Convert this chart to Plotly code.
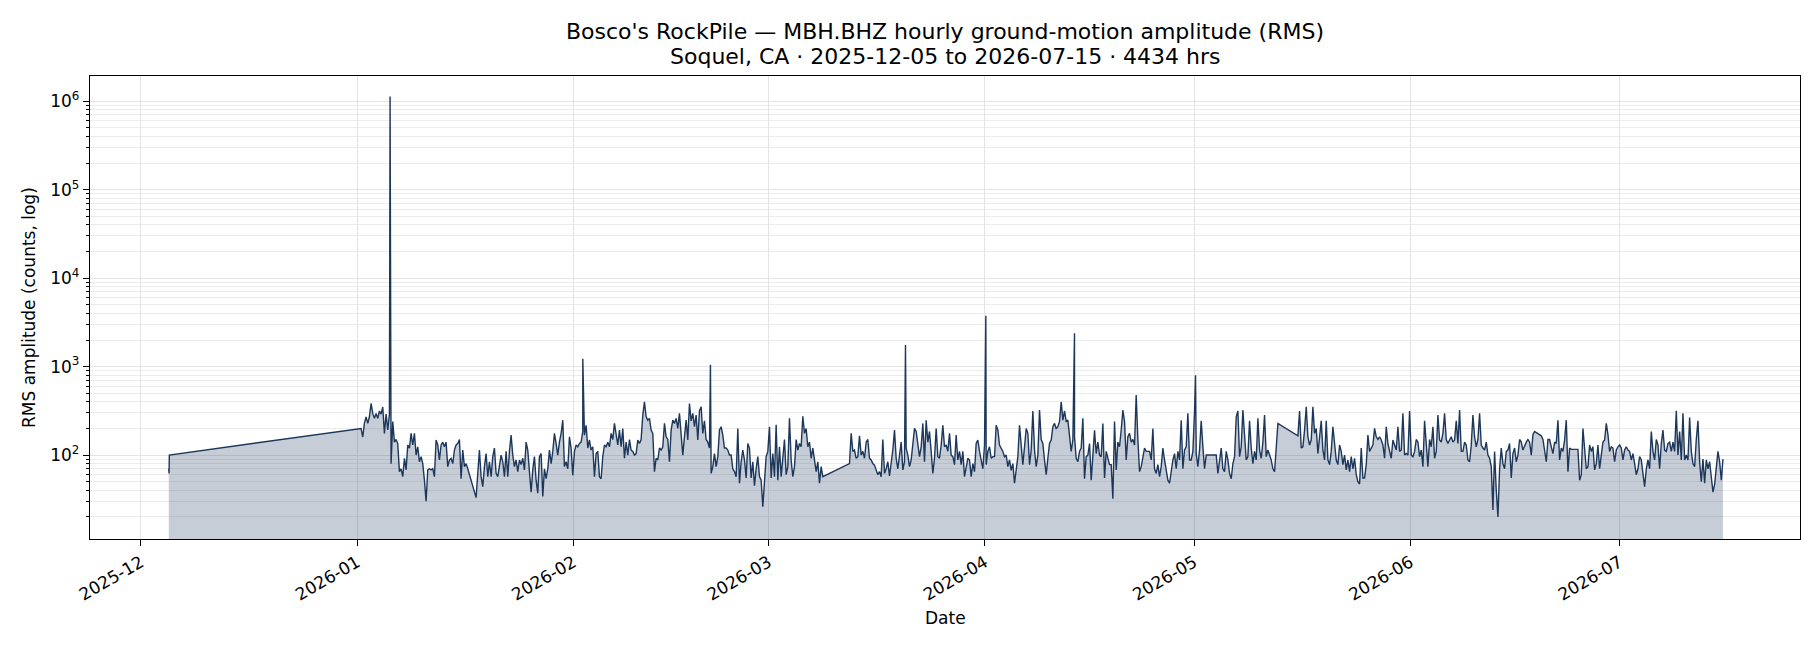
import numpy as np
import pandas as pd
import plotly.graph_objects as go

# ---------------- data ----------------
# short fragment recorded on 2025-12-05
dec_times = ["2025-12-05 00:00", "2025-12-05 01:00", "2025-12-05 02:00"]
dec_rms = [70, 62, 100]

# main record, values read every 5.735 h starting 2026-01-01 13:38 (None = no data)
main_start = "2026-01-01 13:38"
sample_hours = 5.735

rms_jan_a = [200, 160, 230, 270, 228, 271, 383, 296, 260, 296,
             260, 315, 290, 350, 176, 290, 192, 290, 80, 240,
             140, 150, 135, 65, 70, 57, 92, 68, 130, 120,
             176, 130, 176, 100, 124, 84, 96, 80, 52, 30,
             68, 70, 68, 70, 57, 148, 130, 88, 130, 140,
             124, 140, 74, 88, 92, 80, 114, 130, 135, 150,
             54, 114, 74, 80, 70, 60, 52, 45]
rms_jan_b = [37, 33, 62, 114, 57, 44, 74, 104, 57, 84,
             57, 96, 120, 62, 57, 74, 100, 84, 57, 110,
             57, 110, 168, 100, 74, 88, 65, 88, 78, 92,
             68, 140, 114, 65, 38, 68, 96, 52, 37, 96,
             104, 34, 70, 54, 70, 114, 80, 110, 176, 135,
             100, 140, 176, 248, 74, 84, 70, 161, 120, 59,
             110, 130, 124, 135, 140, 185, 168, 217, 120, 148,
             114, 124, 57, 104, 110, 57, 54, 96, 130, 124,
             140]
rms_feb = [124, 176, 150, 228, 176, 130, 192, 124, 200, 92,
           140, 100, 150, 114, 110, 100, 104, 148, 135, 150,
           283, 400, 271, 248, 260, 192, 176, 65, 92, 88,
           120, 114, 124, 228, 161, 150, 84, 192, 248, 228,
           260, 200, 296, 148, 100, 161, 248, 148, 383, 244,
           296, 209, 283, 148, 315, 352, 176, 244, 150, 140,
           120, 62, 74, 104, 74, 96, 192, 209, 168, 120,
           120, 114, 100, 100, 70, 65, 57, 200, 48, 84,
           114]
rms_mar_a = [88, 55, 135, 120, 55, 84, 45, 70, 96, 57,
             52, 26, 48, 96, 110, 209, 55, 104, 57, 220,
             52, 124, 57, 96, 150, 60, 74, 260, 88, 57,
             74, 150, 114, 135, 124, 275, 176, 200, 124, 140,
             92, 120, 84, 65, 84, 48, 74, 57, None, None,
             None, None, None, None, None, None, None, None, None, None,
             None, None, None, 80, 176, 110, 114, 92, 96, 165,
             100, 110, 92, 140, 150, 92, 88, 80, 77, 68,
             60]
rms_mar_b = [65, 57, 150, 62, 70, 84, 58, 78, 114, 192,
             92, 70, 104, 140, 68, 84, 120, 100, 74, 88,
             124, 200, 185, 140, 96, 124, 228, 84, 248, 140,
             185, 110, 62, 92, 200, 96, 92, 130, 217, 124,
             130, 110, 176, 100, 96, 78, 168, 88, 110, 78,
             110, 57, 70, 92, 88, 57, 80, 65, 135, 148,
             110, 84, 70, 130, 78, 110, 124, 92, 96, 96,
             217, 192, 130, 120, 110, 96, 100, 74, 88, 67,
             80]
rms_apr = [48, 70, 96, 217, 124, 78, 124, 200, 176, 78,
           114, 315, 114, 74, 100, 322, 150, 135, 88, 60,
           92, 135, 148, 209, 228, 200, 209, 240, 400, 248,
           315, 240, 248, 161, 110, 148, 160, 92, 84, 110,
           120, 260, 54, 96, 100, 135, 52, 110, 190, 104,
           140, 100, 96, 228, 55, 110, 88, 78, 78, 32,
           240, 68, 140, 124, 192, 322, 240, 88, 161, 176,
           140, 150, 130, 478, 150, 65, 74, 92, 120, 110,
           110]
rms_may_a = [110, 88, 200, 70, 62, 78, 57, 74, 120, 88,
             68, 52, 48, 68, 88, 104, 70, 110, 88, 248,
             70, 114, 124, 296, 88, 88, 110, 315, 104, 74,
             114, 244, 124, 70, 100, 100, 100, 100, 100, 100,
             100, 62, 84, 120, 70, 65, 110, 88, 62, 54,
             80, 96, 271, 315, 96, 124, 322, 150, 88, 96,
             244, 120, 80, 110, 88, 260, 114, 92, 140, 283,
             96, 114, 100, 88, 70, 65, 120, 228, None, None,
             None]
rms_may_b = [None, None, None, None, None, None, None, None, 165, 315,
             120, 124, 192, 352, 161, 130, 148, 352, 176, 200,
             104, 148, 244, 114, 88, 244, 88, 78, 110, 209,
             124, 88, 78, 130, 110, 78, 100, 68, 88, 65,
             96, 70, 92, 60, 50, 47, 120, 55, 55, 78,
             168, 110, 120, 130, 200, 161, 150, 161, 148, 130,
             92, 209, 135, 114, 92, 148, 130, 114, 209, 110,
             114, 296, 100, 104, 100, 315, 100, 96, 110, 150,
             140]
rms_jun = [96, 114, 74, 244, 135, 74, 150, 124, 209, 92,
           110, 283, 148, 140, 176, 296, 150, 135, 148, 161,
           140, 148, 244, 135, 322, 110, 110, 140, 130, 88,
           84, 130, 283, 161, 124, 150, 296, 130, 120, 114,
           140, 100, 92, 74, 24, 110, 40, 20, 70, 120,
           80, 70, 110, 114, 135, 55, 104, 120, 84, 100,
           150, 140, 114, 130, 140, 150, 140, 100, 170, 185,
           180, 176, 168, 165, 150, 110, 84, 150, 150, 124,
           104]
rms_jul = [140, 135, 248, 88, 120, 110, 148, 248, 65, 120,
           116, 116, 116, 116, 116, 52, 60, 200, 110, 70,
           74, 130, 110, 124, 68, 80, 130, 70, 100, 140,
           148, 228, 170, 110, 124, 120, 84, 114, 124, 130,
           120, 88, 114, 124, 114, 110, 88, 104, 80, 60,
           70, 96, 88, 57, 44, 70, 88, 70, 185, 110,
           88, 150, 130, 70, 135, 192, 114, 110, 135, 140,
           110, 140, 110, 316, 100, 185, 88, 296, 88, 100,
           88, 266, 110, 80, 74, 150, 244, 84, 50, 90,
           48, 88, 70, 84, 57, 38, 47, 78, 110, 84,
           52, 90]

# isolated transient spikes
spike_times = ["2026-01-05 17:25", "2026-02-02 08:25", "2026-02-20 15:35",
               "2026-03-20 14:40", "2026-04-01 03:05", "2026-04-13 20:10",
               "2026-05-01 04:30"]
spike_rms = [1130000, 1225, 1050, 1760, 3750, 2380, 800]

month_ticks = ["2025-12-01", "2026-01-01", "2026-02-01", "2026-03-01",
               "2026-04-01", "2026-05-01", "2026-06-01", "2026-07-01"]
month_labels = ["2025-12", "2026-01", "2026-02", "2026-03",
                "2026-04", "2026-05", "2026-06", "2026-07"]
decade_vals = [1e2, 1e3, 1e4, 1e5, 1e6]
decade_labels = ["10<sup>2</sup>", "10<sup>3</sup>", "10<sup>4</sup>",
                 "10<sup>5</sup>", "10<sup>6</sup>"]

# ---------------- assemble ----------------
main_vals = (rms_jan_a + rms_jan_b + rms_feb + rms_mar_a + rms_mar_b +
             rms_apr + rms_may_a + rms_may_b + rms_jun + rms_jul)
main_t = pd.Timestamp(main_start) + pd.to_timedelta(
    np.arange(len(main_vals)) * sample_hours, unit="h")
df = pd.concat([
    pd.DataFrame({"t": pd.to_datetime(dec_times), "v": dec_rms}),
    pd.DataFrame({"t": main_t, "v": main_vals}),
    pd.DataFrame({"t": pd.to_datetime(spike_times), "v": spike_rms}),
]).dropna().sort_values("t")

minor_vals = [m * 10 ** e for e in range(1, 7) for m in range(2, 10)]
minor_vals = [v for v in minor_vals if 11.5 < v < 1.9e6]

FONT = "DejaVu Sans"
LINE = "#1d375a"
TICK = 17
TITLE = 22

fig = go.Figure()
fig.add_trace(go.Scatter(
    x=df["t"], y=df["v"], mode="lines",
    line=dict(color=LINE, width=1.4),
    fill="tozeroy", fillcolor="rgba(29,55,90,0.25)",
    hoverinfo="x+y", showlegend=False,
))

fig.update_layout(
    width=1820, height=650, autosize=False,
    margin=dict(l=90, r=20, t=76, b=111),
    paper_bgcolor="white", plot_bgcolor="white",
    font=dict(family=FONT, size=TICK, color="black"),
    xaxis=dict(
        type="date", range=["2025-11-23 17:00", "2026-07-26 20:10"],
        tickmode="array", tickvals=month_ticks, ticktext=month_labels,
        tickangle=-30, ticks="outside", ticklen=6, tickwidth=1.3, tickcolor="black",
        showline=True, linecolor="black", linewidth=1.3, mirror=True,
        showgrid=True, gridcolor="#e4e4e4", gridwidth=1, zeroline=False,
        tickfont=dict(family=FONT, size=TICK, color="black"),
    ),
    yaxis=dict(
        type="log", range=[1.051, 6.286],
        tickmode="array", tickvals=decade_vals, ticktext=decade_labels,
        ticks="outside", ticklen=6, tickwidth=1.3, tickcolor="black",
        showline=True, linecolor="black", linewidth=1.3, mirror=True,
        showgrid=True, gridcolor="#e4e4e4", gridwidth=1, zeroline=False,
        tickfont=dict(family=FONT, size=TICK, color="black"),
        minor=dict(tickmode="array", tickvals=minor_vals, ticks="outside",
                   ticklen=3.3, tickwidth=1, tickcolor="black",
                   showgrid=True, gridcolor="#ececec", gridwidth=1),
    ),
    annotations=[
        dict(text="Bosco's RockPile \u2014 MBH.BHZ hourly ground-motion amplitude (RMS)",
             xref="paper", yref="paper", x=0.5, y=1, xanchor="center", yanchor="middle",
             yshift=44.7, showarrow=False, font=dict(family=FONT, size=TITLE, color="black")),
        dict(text="Soquel, CA \u00b7 2025-12-05 to 2026-07-15 \u00b7 4434 hrs",
             xref="paper", yref="paper", x=0.5, y=1, xanchor="center", yanchor="middle",
             yshift=20.0, showarrow=False, font=dict(family=FONT, size=TITLE, color="black")),
        dict(text="Date", xref="paper", yref="paper", x=0.5, y=0,
             xanchor="center", yanchor="middle", yshift=-78.5, showarrow=False,
             font=dict(family=FONT, size=TICK, color="black")),
        dict(text="RMS amplitude (counts, log)", xref="paper", yref="paper",
             x=0, y=0.5, xanchor="center", yanchor="middle", xshift=-61.5,
             textangle=-90, showarrow=False,
             font=dict(family=FONT, size=TICK, color="black")),
    ],
)

fig.write_html("out.html")
